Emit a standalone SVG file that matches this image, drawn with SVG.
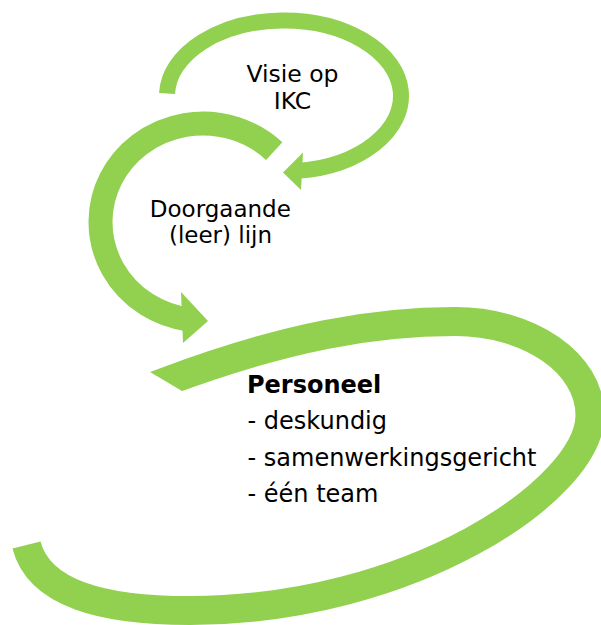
<svg xmlns="http://www.w3.org/2000/svg" width="601" height="625" viewBox="0 0 601 625">
<style>
.band{fill:none;stroke:#92D050;stroke-linecap:butt}
.fillg{fill:#92D050;stroke:none}
.lbl{font-family:"DejaVu Sans","Verdana",sans-serif;fill:#000;font-size:23px}
.c{text-anchor:middle}
.b{font-weight:bold}
</style>
<defs>
  <clipPath id="startCut">
    <path clip-rule="evenodd" d="M0,0H601V625H0Z M118,353 L214,410 L150,440 L100,400 Z"/>
  </clipPath>
</defs>
<rect width="601" height="625" fill="#fff"/>
<g id="connectors">
  <g id="arrow-visie">
    <path class="band" stroke-width="16" d="M167.06,93.5 A117,75.5 0 1 1 298.3,170.9"/>
    <polygon class="fillg" points="303,152.5 283,172.5 301,190"/>
  </g>
  <g id="arrow-doorgaande">
    <path class="band" stroke-width="24" d="M274.2,151.1 A102.5,98.5 0 1 0 188.7,319.5"/>
    <polygon class="fillg" points="181,292 208,321 183,343"/>
  </g>
  <g id="arrow-personeel" clip-path="url(#startCut)">
    <path class="band" stroke-width="29" d="M149.1,387.8 L166,381.5 C287.8,336 375,321.5 455,321.5 C529.6,321.5 590,363.4 590,415 C590,490 410,610.5 190,610.5 C102,610.5 39,593.5 26.5,545"/>
  </g>
</g>
<g id="node-visie">
  <text class="lbl c" x="292.5" y="82" style="font-size:23.5px">Visie op</text>
  <text class="lbl c" x="292.5" y="109" style="font-size:23.5px">IKC</text>
</g>
<g id="node-doorgaande">
  <text class="lbl c" x="220.3" y="217.3">Doorgaande</text>
  <text class="lbl c" x="220.5" y="243">(leer) lijn</text>
</g>
<g id="node-personeel">
  <text class="lbl b" x="247" y="392.7" style="font-size:24px">Personeel</text>
  <text class="lbl" x="247.5" y="429" style="font-size:24px">- deskundig</text>
  <text class="lbl" x="247.5" y="465.5" style="font-size:24px">- samenwerkingsgericht</text>
  <text class="lbl" x="247.5" y="502" style="font-size:24px">- één team</text>
</g>
</svg>
